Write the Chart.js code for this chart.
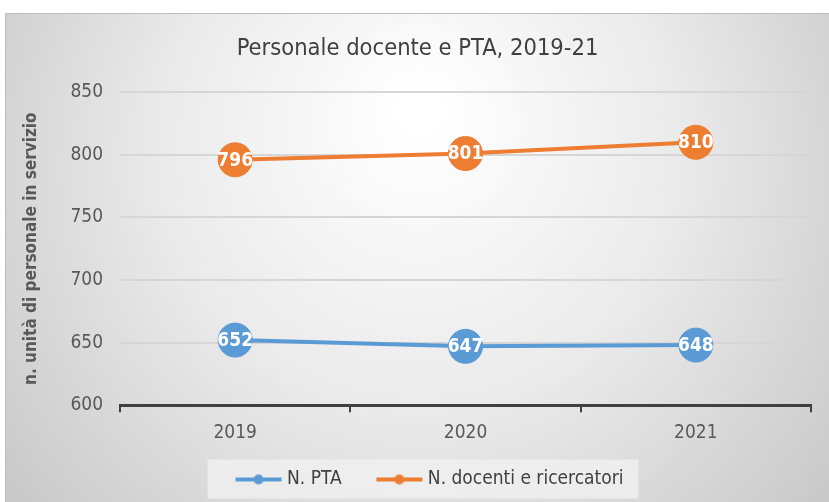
<!DOCTYPE html>
<html>
<head>
<meta charset="utf-8">
<script src="https://cdn.jsdelivr.net/npm/chart.js@4"></script>
<style>
  html, body { margin: 0; padding: 0; background: #fff; }
  #wrap { width: 829px; height: 502px; }
</style>
</head>
<body>
<div id="wrap"><canvas id="personaleChart" width="829" height="502"></canvas></div>
<script>
// Dati
const anni = ['2019', '2020', '2021'];
const valoriPTA = [652, 647, 648];
const valoriDocenti = [796, 801, 810];
const tickY = [600, 650, 700, 750, 800, 850];

const FONT = "'Liberation Sans Narrow', 'DejaVu Sans Condensed', sans-serif";
const BLU = '#5B9BD5';
const ARANCIO = '#ED7D31';
const SPOSTA_LEGENDA = 14;

// Marcatore legenda: linea con pallino
function marcatore(colore) {
    const c = document.createElement('canvas');
    c.width = 48; c.height = 14;
    const g = c.getContext('2d');
    g.strokeStyle = colore;
    g.lineWidth = 4;
    g.beginPath(); g.moveTo(1, 7); g.lineTo(47, 7); g.stroke();
    g.fillStyle = colore;
    g.beginPath(); g.arc(24, 7, 5, 0, Math.PI * 2); g.fill();
    return c;
}

// Sfondo con sfumatura e riquadro della legenda
const sfondo = {
    id: 'sfondo',
    afterLayout(chart) {
        // sposta un po' la legenda verso destra
        const lg = chart.legend;
        if (lg) {
            lg.left += SPOSTA_LEGENDA;
            lg.right += SPOSTA_LEGENDA;
            (lg.legendHitBoxes || []).forEach(b => { b.left += SPOSTA_LEGENDA; });
        }
    },
    beforeDraw(chart) {
        const ctx = chart.ctx;
        const w = chart.width, h = chart.height;
        ctx.save();
        ctx.fillStyle = '#ffffff';
        ctx.fillRect(0, 0, w, h);
        const grad = ctx.createRadialGradient(420, 110, 20, 420, 200, 560);
        grad.addColorStop(0, '#ffffff');
        grad.addColorStop(0.45, '#eaeaea');
        grad.addColorStop(1, '#c2c2c2');
        ctx.fillStyle = grad;
        ctx.fillRect(5, 13, w - 5, h - 13);
        ctx.strokeStyle = '#bdbdbd';
        ctx.lineWidth = 1;
        ctx.beginPath();
        ctx.moveTo(5.5, h); ctx.lineTo(5.5, 13.5); ctx.lineTo(w, 13.5);
        ctx.stroke();

        const boxes = chart.legend && chart.legend.legendHitBoxes;
        if (boxes && boxes.length) {
            let x0 = Infinity, x1 = -Infinity, yc = 0;
            boxes.forEach(b => {
                x0 = Math.min(x0, b.left); x1 = Math.max(x1, b.left + b.width);
                yc += b.top + b.height / 2;
            });
            yc /= boxes.length;
            ctx.fillStyle = 'rgba(242, 242, 242, 0.75)';
            ctx.fillRect(x0 - 32, yc - 20, (x1 - x0) + 47, 39);
        }
        ctx.restore();
    }
};

// Etichette dei valori dentro i pallini
const etichette = {
    id: 'etichette',
    afterDatasetsDraw(chart) {
        const ctx = chart.ctx;
        ctx.save();
        ctx.fillStyle = '#ffffff';
        ctx.font = 'bold 19px ' + FONT;
        ctx.textAlign = 'center';
        ctx.textBaseline = 'middle';
        chart.data.datasets.forEach((ds, i) => {
            chart.getDatasetMeta(i).data.forEach((pt, j) => {
                ctx.fillText(ds.data[j], pt.x, pt.y + 1);
            });
        });
        ctx.restore();
    }
};

const ctx = document.getElementById('personaleChart').getContext('2d');
new Chart(ctx, {
    type: 'line',
    data: {
        labels: anni,
        datasets: [{
            label: 'N. PTA',
            data: valoriPTA,
            borderColor: BLU,
            backgroundColor: BLU,
            borderWidth: 4,
            pointStyle: 'circle',
            pointRadius: 17,
            pointHoverRadius: 17,
            pointBorderWidth: 1,
            pointBorderColor: BLU,
            pointBackgroundColor: BLU
        }, {
            label: 'N. docenti e ricercatori',
            data: valoriDocenti,
            borderColor: ARANCIO,
            backgroundColor: ARANCIO,
            borderWidth: 4,
            pointStyle: 'circle',
            pointRadius: 17,
            pointHoverRadius: 17,
            pointBorderWidth: 1,
            pointBorderColor: ARANCIO,
            pointBackgroundColor: ARANCIO
        }]
    },
    options: {
        responsive: false,
        animation: false,
        layout: { padding: { top: 35, right: 15, bottom: 3, left: 21 } },
        plugins: {
            title: {
                display: true,
                text: 'Personale docente e PTA, 2019-21',
                color: '#404040',
                font: { family: FONT, size: 23.5, weight: 'normal' },
                padding: { top: 0, bottom: 29 }
            },
            legend: {
                position: 'bottom',
                labels: {
                    color: '#404040',
                    font: { family: FONT, size: 19 },
                    usePointStyle: true,
                    pointStyleWidth: 38,
                    boxHeight: 14,
                    padding: 17,
                    generateLabels(chart) {
                        return chart.data.datasets.map((ds, i) => ({
                            // spazi finali per allargare la distanza tra le voci
                            text: i === 0 ? ds.label + '    ' : ds.label,
                            pointStyle: marcatore(ds.borderColor),
                            fontColor: '#404040',
                            lineWidth: 0,
                            strokeStyle: 'transparent',
                            fillStyle: ds.borderColor,
                            datasetIndex: i
                        }));
                    }
                }
            },
            tooltip: { enabled: false }
        },
        scales: {
            x: {
                offset: true,
                grid: {
                    offset: true,
                    drawOnChartArea: false,
                    drawTicks: true,
                    tickLength: 7,
                    color: '#404040',
                    lineWidth: 2
                },
                border: { display: true, color: '#404040', width: 3 },
                ticks: {
                    color: '#595959',
                    font: { family: FONT, size: 19 },
                    padding: 9
                }
            },
            y: {
                min: 600,
                max: 850,
                afterBuildTicks(axis) {
                    axis.ticks = tickY.map(v => ({ value: v }));
                },
                grid: {
                    color: '#d6d6d6',
                    lineWidth: 2,
                    drawTicks: false
                },
                border: { display: false },
                ticks: {
                    color: '#595959',
                    font: { family: FONT, size: 19 },
                    padding: 17
                },
                title: {
                    display: true,
                    text: 'n. unità di personale in servizio',
                    color: '#595959',
                    font: { family: FONT, size: 17, weight: 'bold' },
                    padding: { top: 0, bottom: 12 }
                }
            }
        }
    },
    plugins: [sfondo, etichette]
});
</script>
</body>
</html>
